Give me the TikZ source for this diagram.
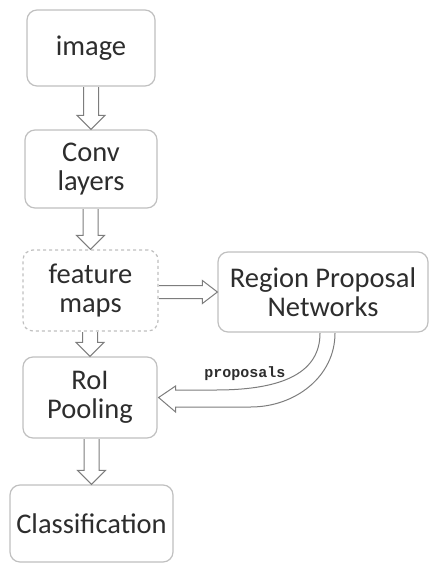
\documentclass[tikz,border=0pt]{standalone}
\usepackage{fontspec}
\setmainfont{Carlito}
\newfontfamily\proplabelfont{Liberation Mono}
\usepackage{tikz}
\usetikzlibrary{calc}

\definecolor{boxgray}{RGB}{192,192,192}
\definecolor{arrowgray}{RGB}{125,125,125}
\definecolor{textgray}{RGB}{45,45,45}

\tikzset{
  box/.style={draw=boxgray, line width=1.2pt, rounded corners=10pt, fill=white,
    text=textgray, align=center, inner sep=0pt, font=\fontsize{28.5}{29}\selectfont},
  blockarrow/.style={draw=arrowgray, line width=1pt, fill=white, line join=miter},
}

% hollow arrow pointing down from one box to the next
\newcommand{\downblock}[2]{%
  \draw[blockarrow] ($(#1.south -| #2.north)+(-7.5,-0.6)$) -- ($(#2.north)+(-7.5,14)$)
    -- ($(#2.north)+(-14,14)$) -- (#2.north) -- ($(#2.north)+(14,14)$)
    -- ($(#2.north)+(7.5,14)$) -- ($(#1.south -| #2.north)+(7.5,-0.6)$);}

\begin{document}
\begin{tikzpicture}[x=1pt,y=1pt]
    \useasboundingbox (0,0) rectangle (429,-563);

    \node[box, minimum width=128pt, minimum height=76pt] (img) at (91,-48) {image};
    \node[box, minimum width=132pt, minimum height=78pt] (conv) at (91,-169) {Conv\\layers};
    \node[box, dashed, minimum width=135pt, minimum height=81pt] (feat) at (90.5,-290.5) {feature\\maps};
    \node[box, minimum width=210pt, minimum height=80pt] (rpn) at (323,-292) {Region Proposal\\Networks};
    \node[box, minimum width=134pt, minimum height=81pt] (roi) at (90,-397.5) {RoI\\Pooling};
    \node[box, minimum width=163pt, minimum height=77pt] (cls) at (91.5,-523.5) {Classification};

    \downblock{img}{conv}
    \downblock{conv}{feat}
    \downblock{feat}{roi}
    \downblock{roi}{cls}

    % feature maps -> RPN
    \draw[blockarrow] ($(feat.east |- rpn.west)+(0.6,6.5)$) -- ($(rpn.west)+(-15,6.5)$)
        -- ($(rpn.west)+(-15,11.5)$) -- (rpn.west) -- ($(rpn.west)+(-15,-11.5)$)
        -- ($(rpn.west)+(-15,-6.5)$) -- ($(feat.east |- rpn.west)+(0.6,-6.5)$);

    % proposals back to RoI pooling
    \draw[blockarrow] ($(rpn.south)+(12,-0.6)$) .. controls +(0,-43) and +(45,0) .. ($(roi.east)+(93,-9.5)$)
        -- ($(roi.east)+(18,-9.5)$) -- ($(roi.east)+(18,-14.5)$) -- ($(roi.east)+(1,0)$)
        -- ($(roi.east)+(18,11.5)$) -- ($(roi.east)+(18,7.5)$) -- ($(roi.east)+(58,7.5)$)
        .. controls +(70,0) and +(0,-38) .. ($(rpn.south)+(-3,-0.6)$);
    \node[text=textgray, font=\proplabelfont\bfseries\fontsize{15}{15}\selectfont] (prop) at (245,-374) {proposals};
\end{tikzpicture}
\end{document}
